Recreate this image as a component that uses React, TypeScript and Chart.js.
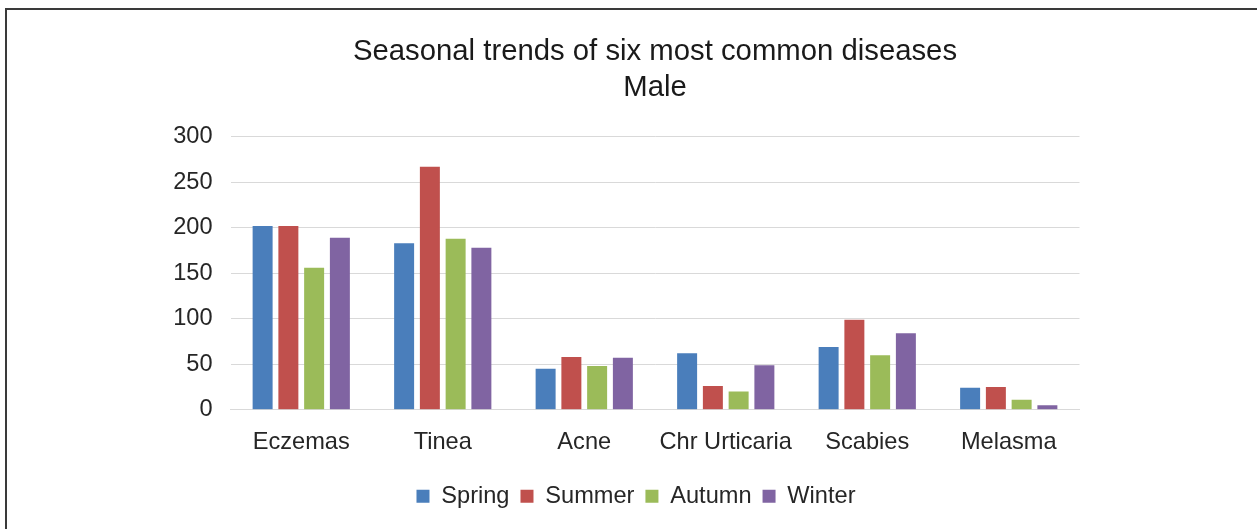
import React, { useEffect, useRef } from "react";
import { Chart, registerables } from "chart.js";

Chart.register(...registerables);

const categories = ["Eczemas", "Tinea", "Acne", "Chr Urticaria", "Scabies", "Melasma"];
const spring = [202, 183, 45, 62, 69, 24];
const summer = [202, 267, 58, 26, 99, 25];
const autumn = [156, 188, 48, 20, 60, 11];
const winter = [189, 178, 57, 49, 84, 5];
const yTicks = [0, 50, 100, 150, 200, 250, 300];
const titleLines = ["Seasonal trends of six most common diseases", "Male"];

const FONT = "'Liberation Sans', Arial, Helvetica, sans-serif";

export default function App() {
  const ref = useRef<HTMLCanvasElement | null>(null);

  useEffect(() => {
    if (!ref.current) return;
    const chart = new Chart(ref.current, {
      type: "bar",
      data: {
        labels: categories,
        datasets: [
          { label: "Spring", data: spring, backgroundColor: "#4a7ebb" },
          { label: "Summer", data: summer, backgroundColor: "#c0504d" },
          { label: "Autumn", data: autumn, backgroundColor: "#9bbb59" },
          { label: "Winter", data: winter, backgroundColor: "#8064a2" },
        ],
      },
      options: {
        animation: false,
        responsive: false,
        maintainAspectRatio: false,
        layout: { padding: { top: 0, bottom: 11, left: 0, right: 0 } },
        datasets: {
          bar: { categoryPercentage: 0.728, barPercentage: 0.776, borderWidth: 0 },
        },
        plugins: {
          title: {
            display: true,
            text: titleLines,
            fullSize: false,
            color: "#1a1a1a",
            font: { family: FONT, size: 29.3, weight: "normal", lineHeight: 1.26 },
            padding: { top: 23, bottom: 30 },
          },
          legend: {
            position: "bottom",
            labels: {
              boxWidth: 13,
              boxHeight: 13,
              padding: 11,
              color: "#262626",
              font: { family: FONT, size: 23.6 },
            },
          },
          tooltip: { enabled: false },
        },
        scales: {
          x: {
            grid: { display: false, drawTicks: false },
            border: { display: true, color: "#d9d9d9", width: 1 },
            ticks: {
              color: "#262626",
              padding: 18.5,
              font: { family: FONT, size: 23.6 },
              maxRotation: 0,
              autoSkip: false,
            },
            afterFit: (s: any) => {
              s.height = 63.7;
            },
          },
          y: {
            min: 0,
            max: 300,
            afterBuildTicks: (s: any) => {
              s.ticks = yTicks.map((v) => ({ value: v }));
            },
            grid: { color: "#d9d9d9", lineWidth: 1, drawTicks: false },
            border: { display: false },
            ticks: {
              color: "#262626",
              padding: 18,
              font: { family: FONT, size: 23.6 },
            },
            afterFit: (s: any) => {
              s.width = 214.5;
            },
          },
          yRight: {
            position: "right",
            display: true,
            grid: { display: false, drawTicks: false },
            border: { display: false },
            ticks: { display: false },
            afterFit: (s: any) => {
              s.width = 176.5;
            },
          },
        },
      },
    } as any);
    return () => chart.destroy();
  }, []);

  return (
    <div
      style={{
        position: "absolute",
        left: 0,
        top: 0,
        width: 1257,
        height: 529,
        overflow: "hidden",
        background: "#ffffff",
      }}
    >
      <div
        style={{
          position: "absolute",
          left: 5,
          top: 8,
          width: 1300,
          height: 600,
          borderLeft: "2px solid #3a3a3a",
          borderTop: "2px solid #3a3a3a",
          boxSizing: "border-box",
        }}
      />
      <canvas
        ref={ref}
        width={1240}
        height={519}
        style={{ position: "absolute", left: 16, top: 10, width: 1240, height: 519 }}
      />
    </div>
  );
}
